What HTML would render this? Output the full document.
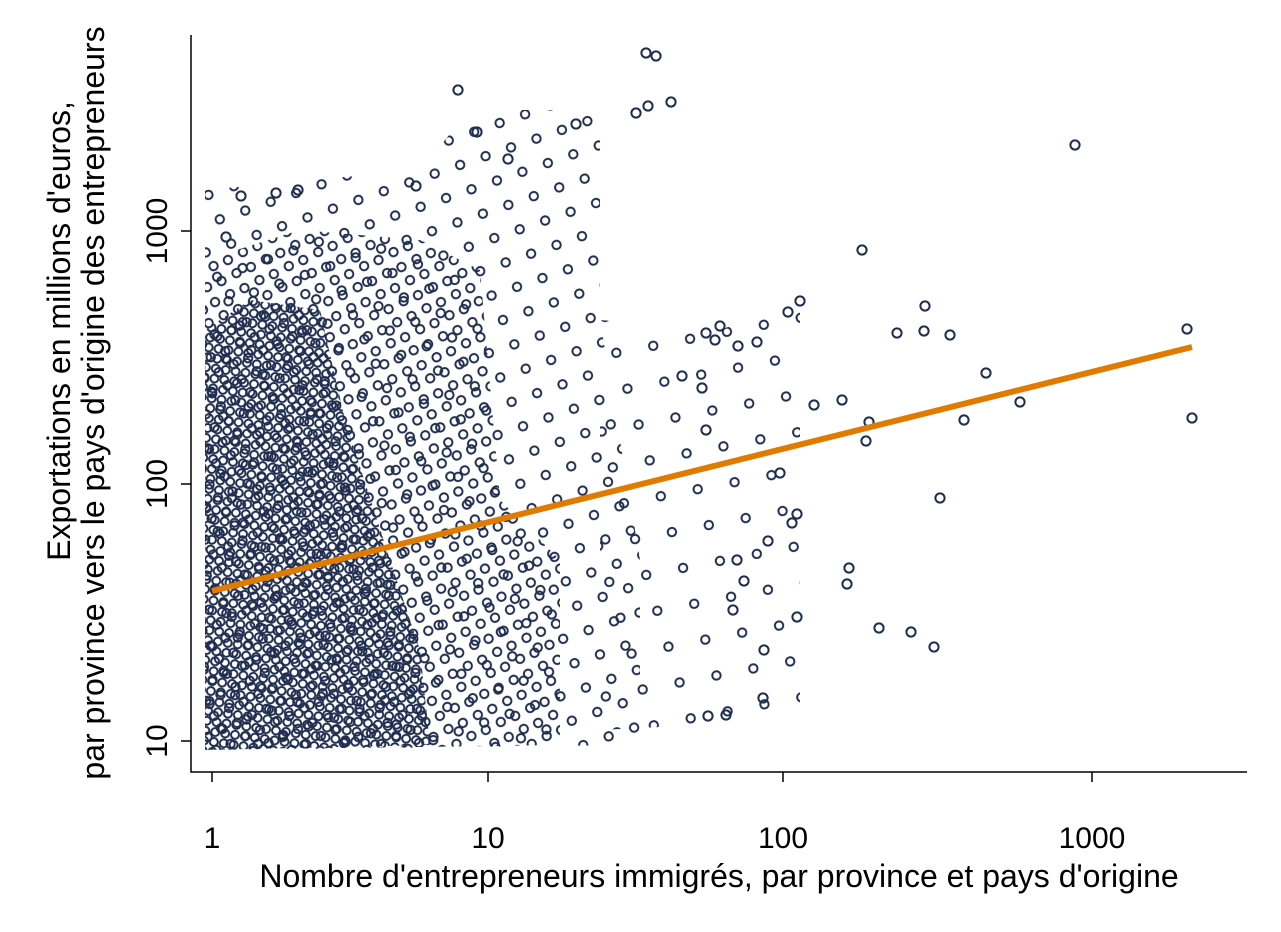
<!DOCTYPE html>
<html><head><meta charset="utf-8"><style>body{margin:0;background:#fff}svg{display:block}text{font-family:"Liberation Sans",Arial,sans-serif;fill:#000}</style></head>
<body>
<svg width="1281" height="932" xmlns="http://www.w3.org/2000/svg">
<defs>
<pattern id="pd" width="10" height="10" patternUnits="userSpaceOnUse" patternTransform="rotate(8)">
<circle cx="5" cy="5" r="4" fill="none" stroke="#1f2d4f" stroke-width="2"/>
</pattern>
<pattern id="pm" width="24" height="22" patternUnits="userSpaceOnUse" patternTransform="rotate(17)">
<circle cx="6" cy="6" r="4.2" fill="none" stroke="#1f2d4f" stroke-width="2"/>
<circle cx="18" cy="16" r="4.2" fill="none" stroke="#1f2d4f" stroke-width="2"/>
</pattern>
<pattern id="ps" width="40" height="36" patternUnits="userSpaceOnUse" patternTransform="rotate(23)">
<circle cx="8" cy="8" r="4.2" fill="none" stroke="#1f2d4f" stroke-width="2"/>
<circle cx="28" cy="26" r="4.2" fill="none" stroke="#1f2d4f" stroke-width="2"/>
</pattern>
<pattern id="px" width="56" height="50" patternUnits="userSpaceOnUse" patternTransform="rotate(31)">
<circle cx="10" cy="10" r="4.2" fill="none" stroke="#1f2d4f" stroke-width="2"/>
<circle cx="38" cy="35" r="4.2" fill="none" stroke="#1f2d4f" stroke-width="2"/>
</pattern>
</defs>
<rect width="1281" height="932" fill="#fff"/>
<path d="M600 320 L720 330 L800 300 L800 720 L600 730 Z" fill="url(#px)"/>
<path d="M205 190 L420 170 L470 110 L600 110 L600 320 L640 560 L640 745 L205 750 Z" fill="url(#ps)"/>
<path d="M205 260 L300 230 L420 240 L480 270 L500 500 L560 560 L560 745 L205 750 Z" fill="url(#pm)"/>
<path d="M205 330 L250 300 L320 310 L345 420 L390 560 L420 650 L430 745 L205 750 Z" fill="url(#pd)"/>
<g fill="none" stroke="#1f2d4f" stroke-width="2">
<circle cx="646" cy="53" r="4.6"/><circle cx="656" cy="56" r="4.6"/><circle cx="636" cy="113" r="4.6"/><circle cx="648" cy="106" r="4.6"/><circle cx="671" cy="102" r="4.6"/>
<circle cx="458" cy="90" r="4.6"/><circle cx="1075" cy="145" r="4.6"/><circle cx="1187" cy="329" r="4.6"/><circle cx="1192" cy="418" r="4.6"/>
<circle cx="241" cy="196" r="4.6"/><circle cx="276" cy="193" r="4.6"/><circle cx="298" cy="190" r="4.6"/><circle cx="226" cy="237" r="4.6"/>
<circle cx="576" cy="124" r="4.6"/><circle cx="477" cy="132" r="4.6"/><circle cx="508" cy="159" r="4.6"/><circle cx="416" cy="186" r="4.6"/>
<circle cx="862" cy="250" r="4.6"/><circle cx="800" cy="301" r="4.6"/><circle cx="788" cy="312" r="4.6"/><circle cx="925" cy="306" r="4.6"/>
<circle cx="897" cy="333" r="4.6"/><circle cx="924" cy="331" r="4.6"/><circle cx="950" cy="335" r="4.6"/><circle cx="986" cy="373" r="4.6"/>
<circle cx="1020" cy="402" r="4.6"/><circle cx="964" cy="420" r="4.6"/><circle cx="869" cy="422" r="4.6"/><circle cx="842" cy="400" r="4.6"/>
<circle cx="814" cy="405" r="4.6"/><circle cx="866" cy="441" r="4.6"/><circle cx="780" cy="473" r="4.6"/><circle cx="940" cy="498" r="4.6"/>
<circle cx="797" cy="514" r="4.6"/><circle cx="792" cy="523" r="4.6"/><circle cx="768" cy="541" r="4.6"/><circle cx="849" cy="568" r="4.6"/>
<circle cx="847" cy="584" r="4.6"/><circle cx="797" cy="617" r="4.6"/><circle cx="879" cy="628" r="4.6"/><circle cx="911" cy="632" r="4.6"/>
<circle cx="934" cy="647" r="4.6"/><circle cx="764" cy="650" r="4.6"/><circle cx="763" cy="698" r="4.6"/><circle cx="726" cy="715" r="4.6"/>
<circle cx="708" cy="716" r="4.6"/><circle cx="757" cy="342" r="4.6"/><circle cx="738" cy="346" r="4.6"/><circle cx="744" cy="581" r="4.6"/>
<circle cx="720" cy="326" r="4.6"/><circle cx="715" cy="340" r="4.6"/><circle cx="706" cy="333" r="4.6"/><circle cx="702" cy="388" r="4.6"/>
<circle cx="682" cy="376" r="4.6"/><circle cx="706" cy="430" r="4.6"/><circle cx="737" cy="560" r="4.6"/><circle cx="733" cy="610" r="4.6"/>
</g>
<line x1="212" y1="591" x2="1192" y2="347" stroke="#e07b00" stroke-width="6"/>
<g stroke="#000" stroke-width="1.5" fill="none">
<path d="M191 35 V772 H1247"/>
<path d="M212 772v10M488 772v10M783 772v10M1092 772v10"/>
<path d="M191 231h-10M191 484h-10M191 741h-10"/>
</g>
<g font-size="30" text-anchor="middle">
<text x="212" y="848">1</text><text x="488" y="848">10</text><text x="783" y="848">100</text><text x="1092" y="848">1000</text>
<text transform="translate(167,231) rotate(-90)">1000</text>
<text transform="translate(167,484) rotate(-90)">100</text>
<text transform="translate(167,741) rotate(-90)">10</text>
</g>
<g font-size="32" text-anchor="middle">
<text x="719" y="887">Nombre d'entrepreneurs immigrés, par province et pays d'origine</text>
<text transform="translate(70,331) rotate(-90)">Exportations en millions d'euros,</text>
<text transform="translate(104,403) rotate(-90)">par province vers le pays d'origine des entrepreneurs</text>
</g>
</svg>
</body></html>
